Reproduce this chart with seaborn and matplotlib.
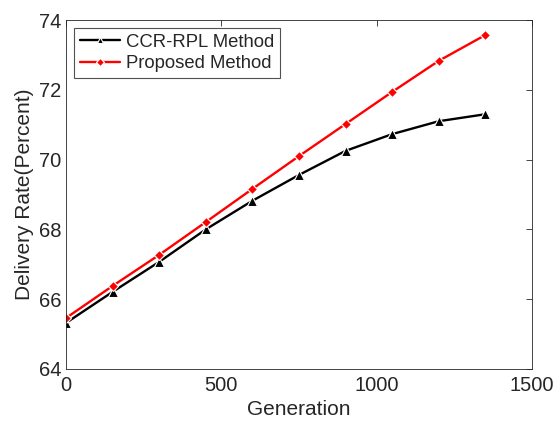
import numpy as np
import pandas as pd
import matplotlib
matplotlib.use("Agg")
import matplotlib.pyplot as plt
import seaborn as sns

# Data
generation = [0, 150, 300, 450, 600, 750, 900, 1050, 1200, 1350]
ccr_rpl = [65.32, 66.21, 67.07, 68.0, 68.82, 69.56, 70.25, 70.73, 71.1, 71.3]
proposed = [65.46, 66.38, 67.27, 68.21, 69.16, 70.1, 71.02, 71.94, 72.83, 73.57]
x_ticks = [0, 500, 1000, 1500]
y_ticks = [64, 66, 68, 70, 72, 74]

df = pd.DataFrame({
    "Generation": generation * 2,
    "Rate": ccr_rpl + proposed,
    "Method": ["CCR-RPL Method"] * len(generation) + ["Proposed Method"] * len(generation),
})

sns.set_style("white")
plt.rcParams["font.family"] = ["Liberation Sans", "DejaVu Sans"]

fig = plt.figure(figsize=(5.57, 4.23), dpi=100)
ax = fig.add_axes([0.1185, 0.1277, 0.8365, 0.825])

sns.lineplot(data=df, x="Generation", y="Rate", hue="Method", style="Method",
             palette={"CCR-RPL Method": "black", "Proposed Method": "red"},
             markers={"CCR-RPL Method": "^", "Proposed Method": "D"},
             dashes=False, linewidth=1.7, markersize=7, markeredgewidth=0.8,
             ax=ax)

# diamonds a little smaller than the triangles
for ln in ax.lines:
    if ln.get_marker() == "D":
        ln.set_markersize(5.5)

ax.set_xlim(0, 1500)
ax.set_ylim(64, 74)
ax.set_xticks(x_ticks)
ax.set_yticks(y_ticks)
ax.set_xlabel("Generation", fontsize=15, color="#262626", labelpad=4)
ax.set_ylabel("Delivery Rate(Percent)", fontsize=15, color="#262626", labelpad=3)
ax.tick_params(direction="in", length=4, top=True, right=True, labelsize=14.5,
               colors="#262626", color="#262626", width=0.6)
ax.tick_params(axis="x", pad=5)
for s in ax.spines.values():
    s.set_color("#262626")
    s.set_linewidth(0.6)

leg = ax.legend(loc="upper left", fontsize=13.3, frameon=True, fancybox=False,
                edgecolor="#262626", borderaxespad=0.45, handlelength=2.2,
                handletextpad=0.3, borderpad=0.3, labelspacing=0.25,
                markerscale=0.7)
leg.get_frame().set_linewidth(0.8)

fig.savefig("out.png", dpi=100)
